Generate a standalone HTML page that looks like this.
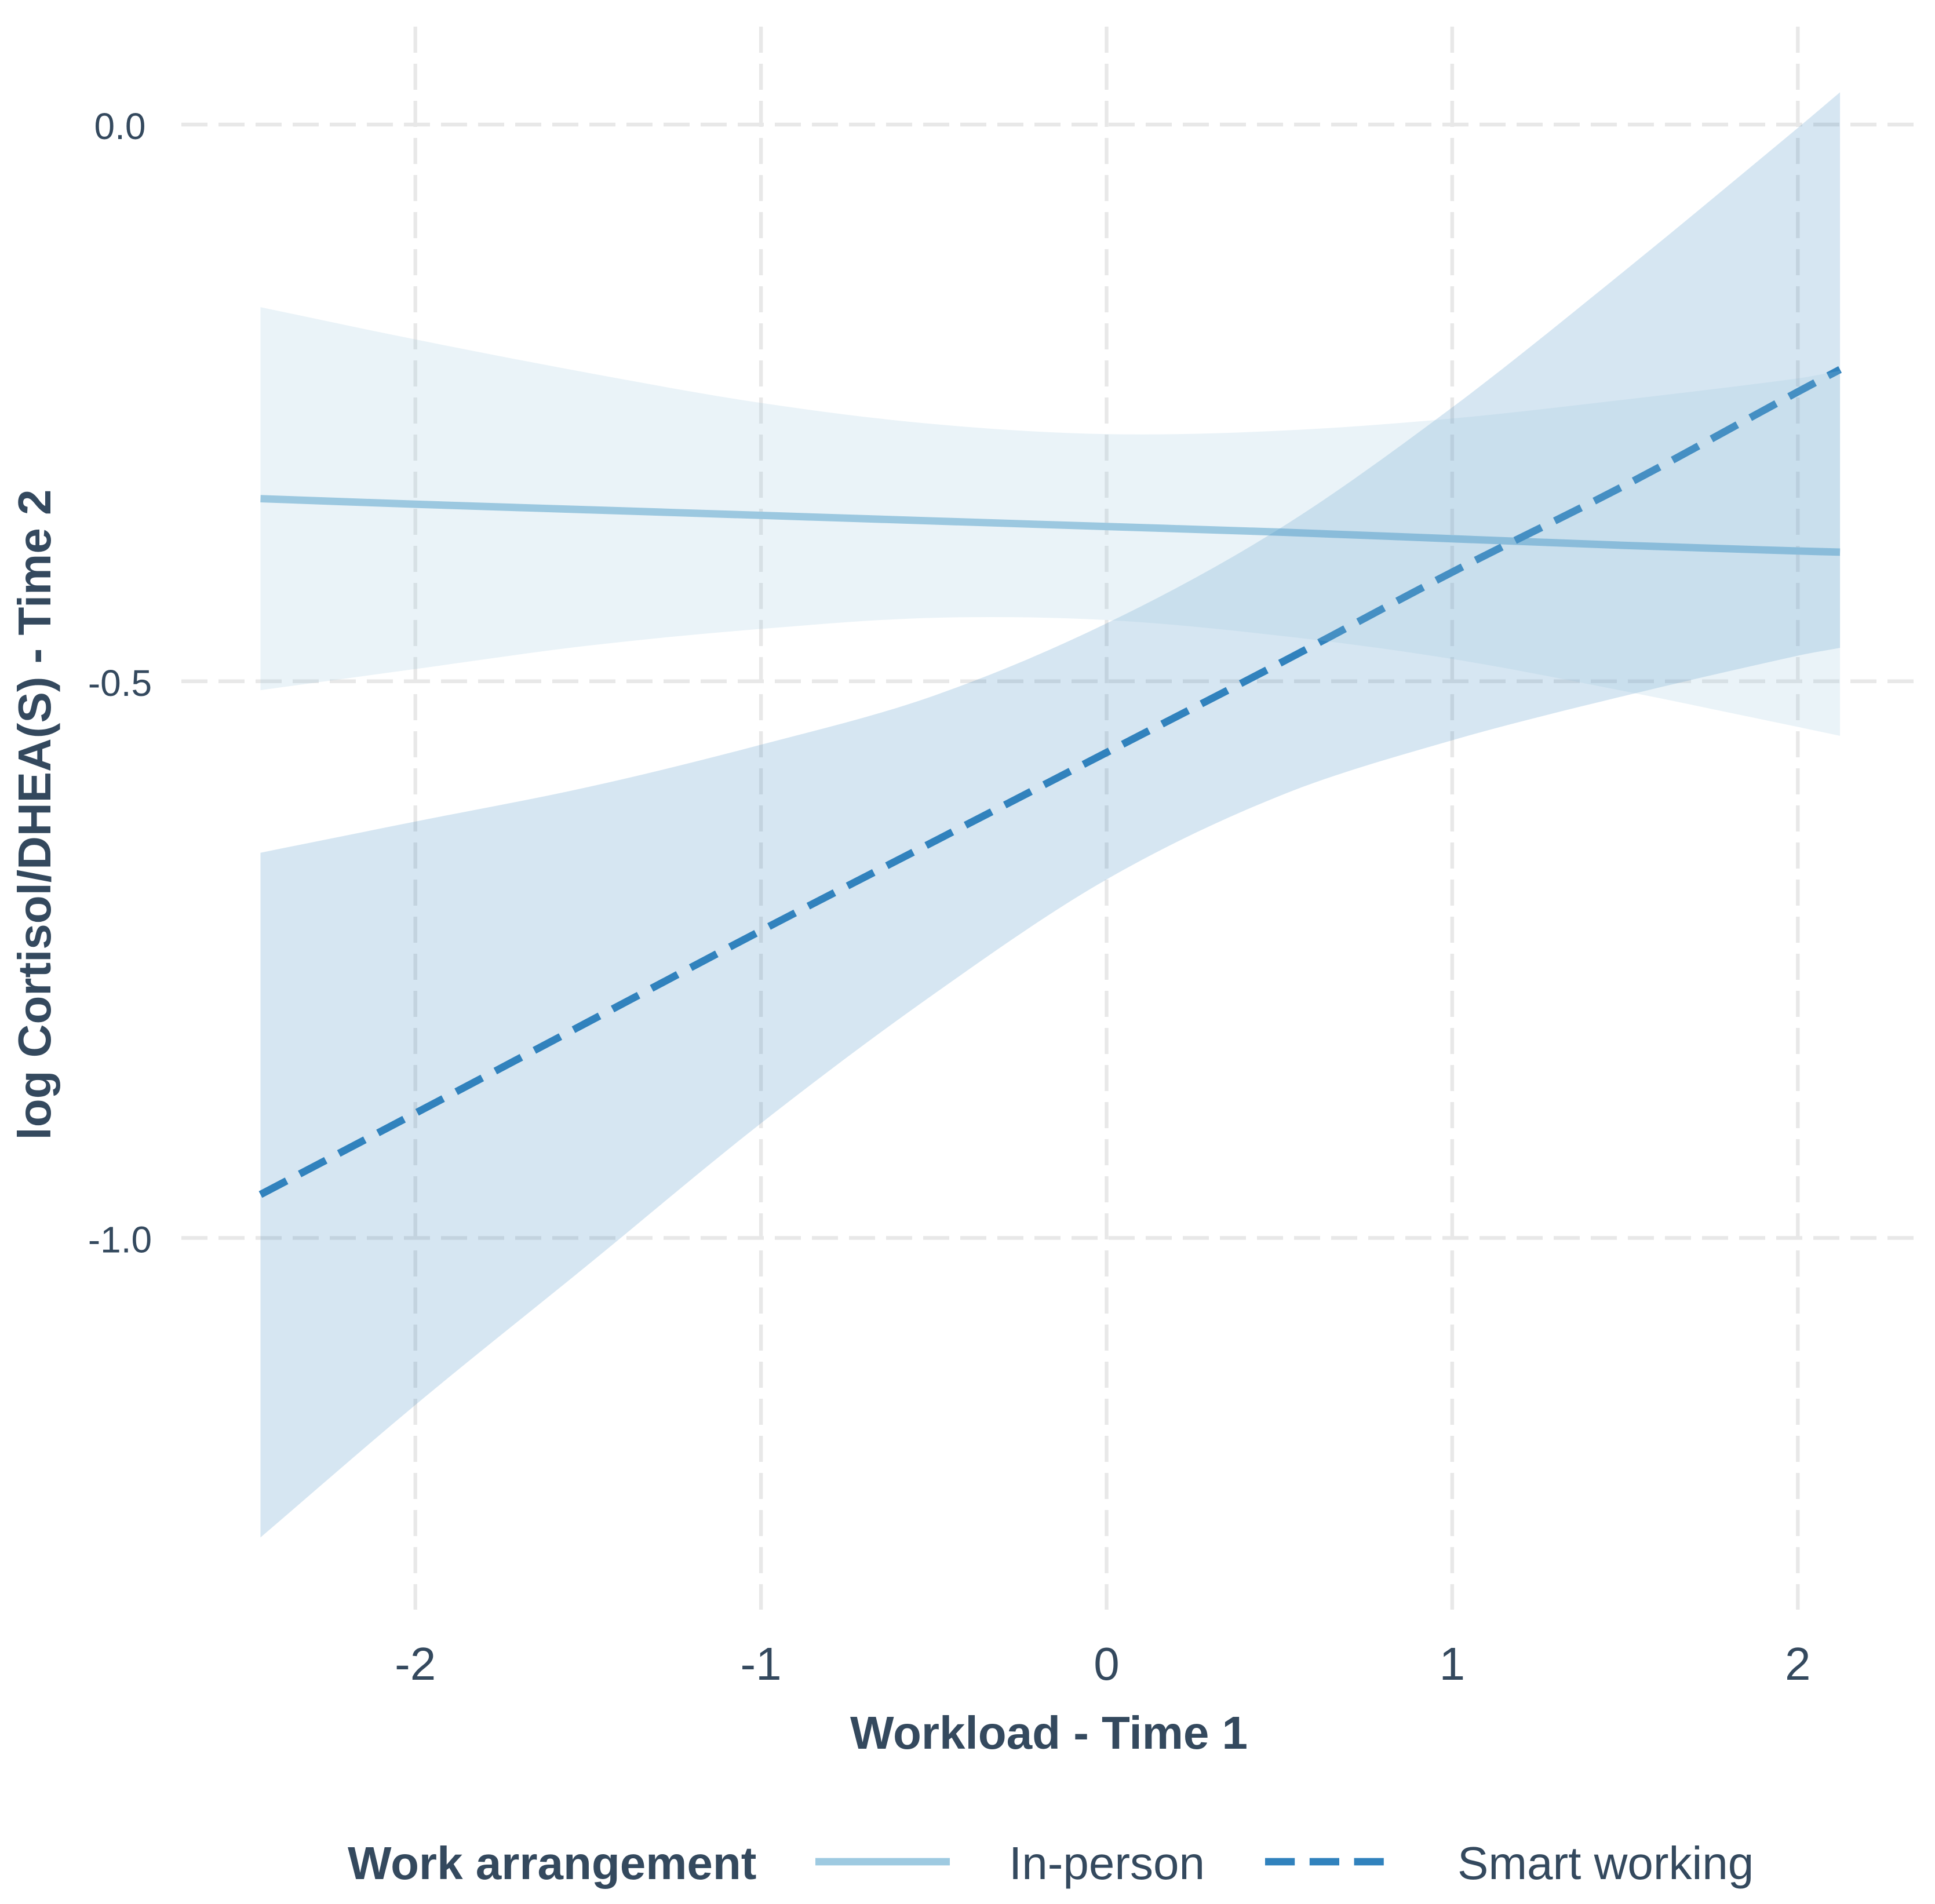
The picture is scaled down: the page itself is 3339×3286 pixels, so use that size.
<!DOCTYPE html>
<html lang="en">
<head>
<meta charset="utf-8">
<title>Workload and log Cortisol/DHEA(S)</title>
<style>
html,body{margin:0;padding:0;background:#fff;}
svg{display:block;}
text{font-family:"Liberation Sans",Arial,sans-serif;fill:#34495e;}
.b{font-weight:700;}
</style>
</head>
<body>
<svg id="chart" xmlns="http://www.w3.org/2000/svg" width="3339" height="3286" viewBox="0 0 3339 3286">
  <rect x="0" y="0" width="3339" height="3286" fill="#ffffff"/>
  <g id="grid"></g>
  <g id="marks"></g>
  <g id="xticks"></g>
  <g id="yticks"></g>
  <text class="b" x="1810" y="3018" font-size="80" text-anchor="middle">Workload - Time 1</text>
  <text class="b" x="0" y="0" font-size="80" text-anchor="middle" transform="translate(87,1406) rotate(-90)">log Cortisol/DHEA(S) - Time 2</text>
  <g>
    <text class="b" x="600" y="3243" font-size="80">Work arrangement</text>
    <line x1="1407" y1="3213" x2="1639" y2="3213" stroke="#9ecae1" stroke-width="12.8"/>
    <text x="1741" y="3243" font-size="80">In-person</text>
    <line x1="2183" y1="3213" x2="2388" y2="3213" stroke="#3182bd" stroke-width="12.8" stroke-dasharray="51.2 25.6"/>
    <text x="2515" y="3243" font-size="80">Smart working</text>
  </g>
</svg>
<script>
// Data
const xValues = [-2.448, -2, -1.5, -1, -0.5, 0, 0.5, 1, 1.5, 2, 2.122];
const inPersonFit = [-0.336, -0.341, -0.346, -0.351, -0.356, -0.361, -0.366, -0.372, -0.378, -0.383, -0.384];
const inPersonUpper = [-0.164, -0.193, -0.223, -0.250, -0.269, -0.278, -0.275, -0.264, -0.247, -0.228, -0.221];
const inPersonLower = [-0.508, -0.489, -0.468, -0.453, -0.443, -0.445, -0.459, -0.480, -0.509, -0.541, -0.549];
const smartFit = [-0.961, -0.888, -0.806, -0.724, -0.644, -0.564, -0.484, -0.402, -0.324, -0.240, -0.220];
const smartUpper = [-0.654, -0.626, -0.595, -0.557, -0.513, -0.448, -0.363, -0.254, -0.131, -0.003, 0.029];
const smartLower = [-1.269, -1.150, -1.024, -0.897, -0.781, -0.678, -0.603, -0.553, -0.513, -0.477, -0.470];
const xTicks = [-2, -1, 0, 1, 2];
const xTickLabels = ["-2", "-1", "0", "1", "2"];
const yTicks = [0, -0.5, -1];
const yTickLabels = ["0.0", "-0.5", "-1.0"];

const NS = "http://www.w3.org/2000/svg";
function sx(v){ return 1909.5 + v * 596.4; }
function sy(v){ return 215 - v * 1921.5; }
function make(tag, parent, attrs){
  const el = document.createElementNS(NS, tag);
  for (const k in attrs) el.setAttribute(k, attrs[k]);
  parent.appendChild(el);
  return el;
}
function curve(pts, start){
  let d = (start ? "M" : "L") + pts[0][0].toFixed(1) + " " + pts[0][1].toFixed(1);
  for (let i = 0; i < pts.length - 1; i++){
    const p0 = pts[Math.max(i-1,0)], p1 = pts[i], p2 = pts[i+1], p3 = pts[Math.min(i+2,pts.length-1)];
    const seg = p2[0] - p1[0];
    const s1 = (p2[1]-p0[1])/(p2[0]-p0[0]);
    const s2 = (p3[1]-p1[1])/(p3[0]-p1[0]);
    d += "C" + (p1[0]+seg/3).toFixed(1) + " " + (p1[1]+s1*seg/3).toFixed(1) + " " +
         (p2[0]-seg/3).toFixed(1) + " " + (p2[1]-s2*seg/3).toFixed(1) + " " +
         p2[0].toFixed(1) + " " + p2[1].toFixed(1);
  }
  return d;
}
function toPts(vals){ return vals.map((v,i)=>[sx(xValues[i]), sy(v)]); }
function ribbonPath(up, lo){
  return curve(toPts(up), true) + curve(toPts(lo).reverse(), false) + "Z";
}

const grid = document.getElementById("grid");
yTicks.forEach(function(t){
  const el = make("line", grid, {x1:313, x2:3302, y1:sy(t), y2:sy(t), stroke:"#e8e8e8", "stroke-width":6.4, "stroke-dasharray":"45 19"});
  
  
});
xTicks.forEach(function(t){
  const el = make("line", grid, {x1:sx(t), x2:sx(t), y1:46, y2:2778, stroke:"#e8e8e8", "stroke-width":6.4, "stroke-dasharray":"45 19"});
  
  
});

// Layer order follows the reference: each ribbon tints the other series' line.
const marks = document.getElementById("marks");
const lineA = make("path", marks, {d:curve(toPts(inPersonFit), true), fill:"none", stroke:"#9ecae1", "stroke-width":12.8});


const ribbonB = make("path", marks, {d:ribbonPath(smartUpper, smartLower), fill:"#3182bd", "fill-opacity":0.2});


const lineB = make("path", marks, {d:curve(toPts(smartFit), true), fill:"none", stroke:"#3182bd", "stroke-width":12.8, "stroke-dasharray":"50.9 25.4"});


const ribbonA = make("path", marks, {d:ribbonPath(inPersonUpper, inPersonLower), fill:"#96c3de", "fill-opacity":0.2});



const xticks = document.getElementById("xticks");
xTicks.forEach(function(t,i){
  const el = make("text", xticks, {x:sx(t), y:2899, "font-size":80, "text-anchor":"middle"});
  el.textContent = xTickLabels[i];
  
  
});
const yticks = document.getElementById("yticks");
yTicks.forEach(function(t,i){
  const el = make("text", yticks, {x:207, y:sy(t)+25, "font-size":64, "text-anchor":"middle"});
  el.textContent = yTickLabels[i];
  
  
});
</script>
</body>
</html>
